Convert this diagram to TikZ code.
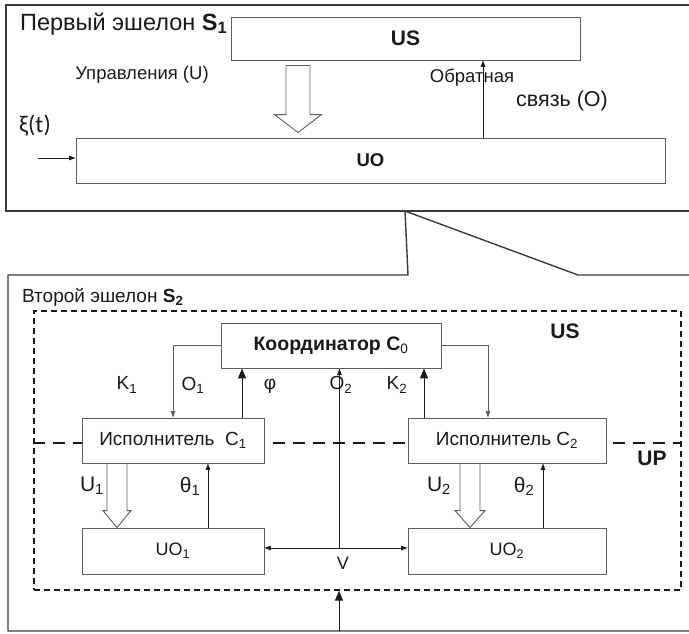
\documentclass[tikz,border=0pt]{standalone}
\usepackage{fontspec}
\setmainfont{Liberation Sans}
\newfontfamily\calfam{Carlito}
\usetikzlibrary{arrows.meta,calc}
\newcommand\fsz[1]{\fontsize{#1}{#1}\selectfont}
\definecolor{framec}{HTML}{3A3A3A}
\definecolor{boxc}{HTML}{5E5E5E}
\definecolor{inkc}{HTML}{1A1A1A}
% hollow block arrow: top point, tip point, shaft half-width, head half-width, head length
\newcommand\fatarrow[5]{%
  \draw[hollow] ($(#1)+(-#3,0)$) -- ($(#2)+(-#3,-#5)$) -- ($(#2)+(-#4,-#5)$) -- (#2)
    -- ($(#2)+(#4,-#5)$) -- ($(#2)+(#3,-#5)$) -- ($(#1)+(#3,0)$) -- cycle;}
\begin{document}
\begin{tikzpicture}[x=1pt,y=-1pt,
  box/.style={draw=boxc, fill=white, line width=0.9pt, inner sep=0pt, text=inkc, font=\fsz{19}},
  frame/.style={draw=framec, line width=1.4pt, line join=miter},
  lab/.style={inner sep=0pt, text=inkc},
  sarrow/.style={draw=inkc, line width=0.8pt, -{Triangle[length=6.5pt,width=4.5pt]}},
  garrow/.style={draw=boxc, line width=0.8pt, -{Triangle[length=6.5pt,width=4.5pt]}},
  barrow/.style={draw=inkc, line width=1pt, -{Triangle[length=10pt,width=8pt]}},
  darrow/.style={draw=inkc, line width=0.8pt, {Triangle[length=6.5pt,width=4.5pt]}-{Triangle[length=6.5pt,width=4.5pt]}},
  hollow/.style={draw=boxc, fill=white, line width=0.9pt, line join=miter},
  dashframe/.style={draw=inkc, line width=1.3pt, dash pattern=on 6pt off 4pt},
  dashsplit/.style={draw=inkc, line width=2.6pt, dash pattern=on 12pt off 8pt},
]
\useasboundingbox (0,0) rectangle (689,633);

% ---------- first echelon ----------
\draw[frame] (689,5) -- (6,5) -- (6,211) -- (689,211);
\node[lab, anchor=base west, font=\fsz{23.5}] (s1) at (20,30) {Первый эшелон \textbf{S\textsubscript{1}}};
\node[box, minimum width=349pt, minimum height=43pt, font=\fsz{21}\bfseries] (US) at (405.5,38.5) {US};
\node[box, minimum width=589pt, minimum height=45pt, font=\fsz{18.5}\bfseries] (UO) at (370.5,160.5) {UO};
\node[lab, font=\fsz{18.5}] (ctl) at (142,75) {Управления (U)};
\node[lab, font=\fsz{18.5}] (fb1) at (472,78) {Обратная};
\node[lab, font=\fsz{21.5}] (fb2) at (562,101) {связь (О)};
\node[lab, font=\calfam\fsz{24}] (xi) at (35,126) {ξ(t)};

\coordinate (ha) at (298,0);
\coordinate (haTop) at ($(ha |- US.south)+(0,5)$);
\coordinate (haTip) at ($(ha |- UO.north)+(0,-5)$);
\fatarrow{haTop}{haTip}{12}{23.5}{18}

\coordinate (fb) at (483,0);
\draw[sarrow] (fb |- UO.north) -- (fb |- US.south);
\coordinate (xiS) at (38,158);
\draw[sarrow] (xiS) -- (xiS -| UO.west);

% ---------- callout to the second echelon ----------
\draw[frame] (689,275) -- (578,275) -- (405,211) -- (408,275) -- (8,275) -- (8,631) -- (689,631);
\node[lab, anchor=base west, font=\fsz{19}] (s2) at (22,302) {Второй эшелон \textbf{S\textsubscript{2}}};

% ---------- second echelon ----------
\node[dashframe, minimum width=647pt, minimum height=279pt, inner sep=0pt] (grp) at (357.5,450.5) {};
\coordinate (split) at (0,443);
\draw[dashsplit] (grp.west |- split) -- (grp.east |- split);

\node[box, minimum width=220pt, minimum height=45pt, font=\fsz{19.5}\bfseries] (K0) at (331,345.5) {Координатор C\textsubscript{\mdseries 0}};
\node[box, minimum width=182pt, minimum height=45pt] (C1) at (173,440.5) {Исполнитель~ C\textsubscript{1}};
\node[box, minimum width=198pt, minimum height=45pt] (C2) at (507,440.5) {Исполнитель C\textsubscript{2}};
\node[box, minimum width=182pt, minimum height=46pt, font=\fsz{18}] (UO1) at (173,551) {UO\textsubscript{1}};
\node[box, minimum width=198pt, minimum height=46pt, font=\fsz{18}] (UO2) at (507,551) {UO\textsubscript{2}};

\node[lab, font=\fsz{21}\bfseries] (usL) at (565,331) {US};
\node[lab, font=\fsz{21}\bfseries] (upL) at (652,458) {UP};

\node[lab, font=\fsz{19}] (k1L) at (127,385) {K\textsubscript{1}};
\node[lab, font=\fsz{19}] (o1L) at (193,385) {O\textsubscript{1}};
\node[lab, font=\fsz{19}] (phL) at (270,386) {φ};
\node[lab, font=\fsz{19}] (o2L) at (341,385) {O\textsubscript{2}};
\node[lab, font=\fsz{19}] (k2L) at (397,385) {K\textsubscript{2}};

\node[lab, font=\fsz{21}] (u1L) at (92,486) {U\textsubscript{1}};
\node[lab, font=\fsz{21}] (t1L) at (190,486) {θ\textsubscript{1}};
\node[lab, font=\fsz{21}] (u2L) at (439,486) {U\textsubscript{2}};
\node[lab, font=\fsz{21}] (t2L) at (524,486) {θ\textsubscript{2}};
\node[lab, font=\fsz{18}] (vL) at (343,563) {V};

% coordinator links
\draw[garrow] (K0.west) -| (C1.north);
\coordinate (c2in) at ($(C2.north)+(-19,0)$);
\draw[garrow] (K0.east) -| (c2in);
\coordinate (phi) at ($(C1.north)+(69,0)$);
\draw[barrow] (phi) -- (phi |- K0.south);
\coordinate (k2) at ($(C2.north)+(-83,0)$);
\draw[barrow] (k2) -- (k2 |- K0.south);

% interaction between objects
\draw[darrow] ($(UO1.east)+(0,-3)$) -- ($(UO2.west)+(0,-3)$);
\coordinate (o2) at ($(UO1.east)+(75,-3)$);
\draw[sarrow] (o2) -- (o2 |- K0.south);

% executor / object links
\coordinate (t1) at ($(UO1.north)+(35,0)$);
\draw[sarrow] (t1) -- (t1 |- C1.south);
\coordinate (t2) at ($(UO2.north)+(36,0)$);
\draw[sarrow] (t2) -- (t2 |- C2.south);

\coordinate (u1) at ($(C1.south)+(-56,0)$);
\fatarrow{u1}{u1 |- UO1.north}{10}{14}{17}
\coordinate (u2) at ($(C2.south)+(-37,0)$);
\fatarrow{u2}{u2 |- UO2.north}{10}{15}{17}

% external input
\coordinate (inB) at (339,631);
\draw[barrow] (inB) -- (inB |- grp.south);
\end{tikzpicture}
\end{document}
